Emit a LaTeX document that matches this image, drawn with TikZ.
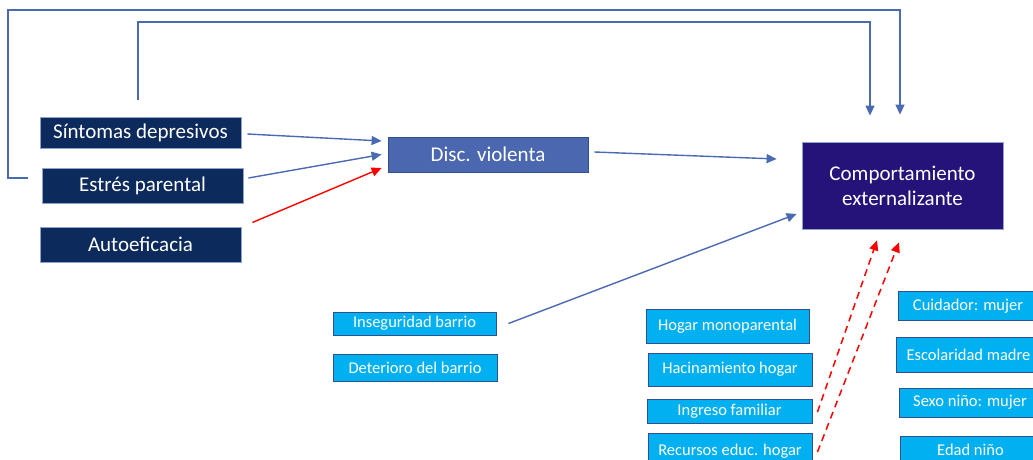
\documentclass[tikz,border=0pt]{standalone}
\usepackage{fontspec}
\setmainfont{Carlito}
\usetikzlibrary{arrows.meta}

\definecolor{navybox}{HTML}{0C2A5C}
\definecolor{navyline}{HTML}{8EA4CC}
\definecolor{discblue}{HTML}{4A67B0}
\definecolor{discline}{HTML}{2F4F8F}
\definecolor{compviolet}{HTML}{26137A}
\definecolor{cyanbox}{HTML}{00B0F0}
\definecolor{cyanline}{HTML}{2F4F8F}
\definecolor{linkblue}{HTML}{4A6AB2}

\tikzset{
  bigbox/.style={draw=navyline, fill=navybox, text=white, line width=0.8pt,
    inner sep=0pt, align=center, font=\fontsize{21}{25}\selectfont},
  smallbox/.style={draw=cyanline, fill=cyanbox, text=white, line width=0.9pt,
    inner sep=0pt, align=center, font=\fontsize{16.5}{19}\selectfont},
  link/.style={draw=linkblue, line width=1.4pt, -{Triangle[length=10pt,width=9pt]}},
  redlink/.style={draw=red, line width=1.5pt, dash pattern=on 7pt off 5pt,
    -{Triangle[length=10pt,width=9pt]}}
}

\begin{document}
\begin{tikzpicture}[x=1pt,y=-1pt]
  \useasboundingbox (0,0) rectangle (1033,460);

  % parent factors on the left
  \node[bigbox, minimum width=201pt, minimum height=31pt] (sint) at (140.5,132.5) {Síntomas depresivos};
  \node[bigbox, minimum width=201pt, minimum height=35pt] (estres) at (142.5,185.5) {Estrés parental};
  \node[bigbox, minimum width=201pt, minimum height=35pt] (autoef) at (140.5,244.5) {Autoeficacia};

  % mediator and outcome
  \node[bigbox, draw=discline, fill=discblue, minimum width=200pt, minimum height=35pt] (disc) at (488,154.5) {Disc. violenta};
  \node[bigbox, fill=compviolet, minimum width=201pt, minimum height=87pt] (comp) at (902.5,185.5) {Comportamiento\\externalizante};

  % neighbourhood, household and child covariates
  \foreach \name/\x/\y/\w/\h/\txt in {
      inseg/414.5/323.5/163/23/Inseguridad barrio,
      deter/415/367.5/164/27/Deterioro del barrio,
      hogar/727.5/326/163/34/Hogar monoparental,
      hacin/730/369.5/164/33/Hacinamiento hogar,
      ingreso/729.5/411/165/24/Ingreso familiar,
      recursos/730/451/164/35/Recursos educ. hogar,
      cuidador/968/306/140/29/Cuidador: mujer,
      escol/968.5/354.5/145/35/Escolaridad madre,
      sexo/970/402.5/142/29/Sexo niño: mujer,
      edad/970.5/450/141/28/Edad niño}
    \node[smallbox, minimum width=\w pt, minimum height=\h pt] (\name) at (\x,\y) {\txt};

  % paths into Disc. violenta
  \draw[link] ([xshift=6pt,yshift=-1.5pt]sint.east) -- ([xshift=-6pt,yshift=13.5pt]disc.west);
  \draw[link] ([xshift=5pt,yshift=7.5pt]estres.east) -- ([xshift=-6pt]disc.west);
  \draw[link, draw=red] ([xshift=11pt,yshift=22pt]autoef.east) -- ([xshift=-6pt,yshift=-13.5pt]disc.west);

  % paths into the outcome
  \draw[link] ([xshift=6pt,yshift=2.5pt]disc.east) -- ([xshift=-25pt,yshift=26.5pt]comp.west);
  \draw[link] ([xshift=12pt]inseg.east) -- ([xshift=-5pt,yshift=-28.5pt]comp.west);

  % direct paths over the top
  \coordinate (outleft) at (8,178);
  \coordinate (outright) at (900,10);
  \draw[link] ([xshift=-14pt,yshift=7.5pt]estres.west) -- (outleft) |- (outright)
              -- ([xshift=-2.5pt,yshift=27pt]comp.north);
  \coordinate (inright) at (870,22);
  \draw[link] ([xshift=-2.5pt,yshift=17pt]sint.north) |- (inright)
              -- ([xshift=-32.5pt,yshift=26pt]comp.north);

  % dashed paths from household
  \draw[redlink] ([xshift=5pt,yshift=-1pt]ingreso.east) -- ([xshift=-25.5pt,yshift=-11pt]comp.south);
  \draw[redlink] ([xshift=5pt,yshift=-1pt]recursos.east) -- ([xshift=-3.5pt,yshift=-13pt]comp.south);

\end{tikzpicture}
\end{document}
